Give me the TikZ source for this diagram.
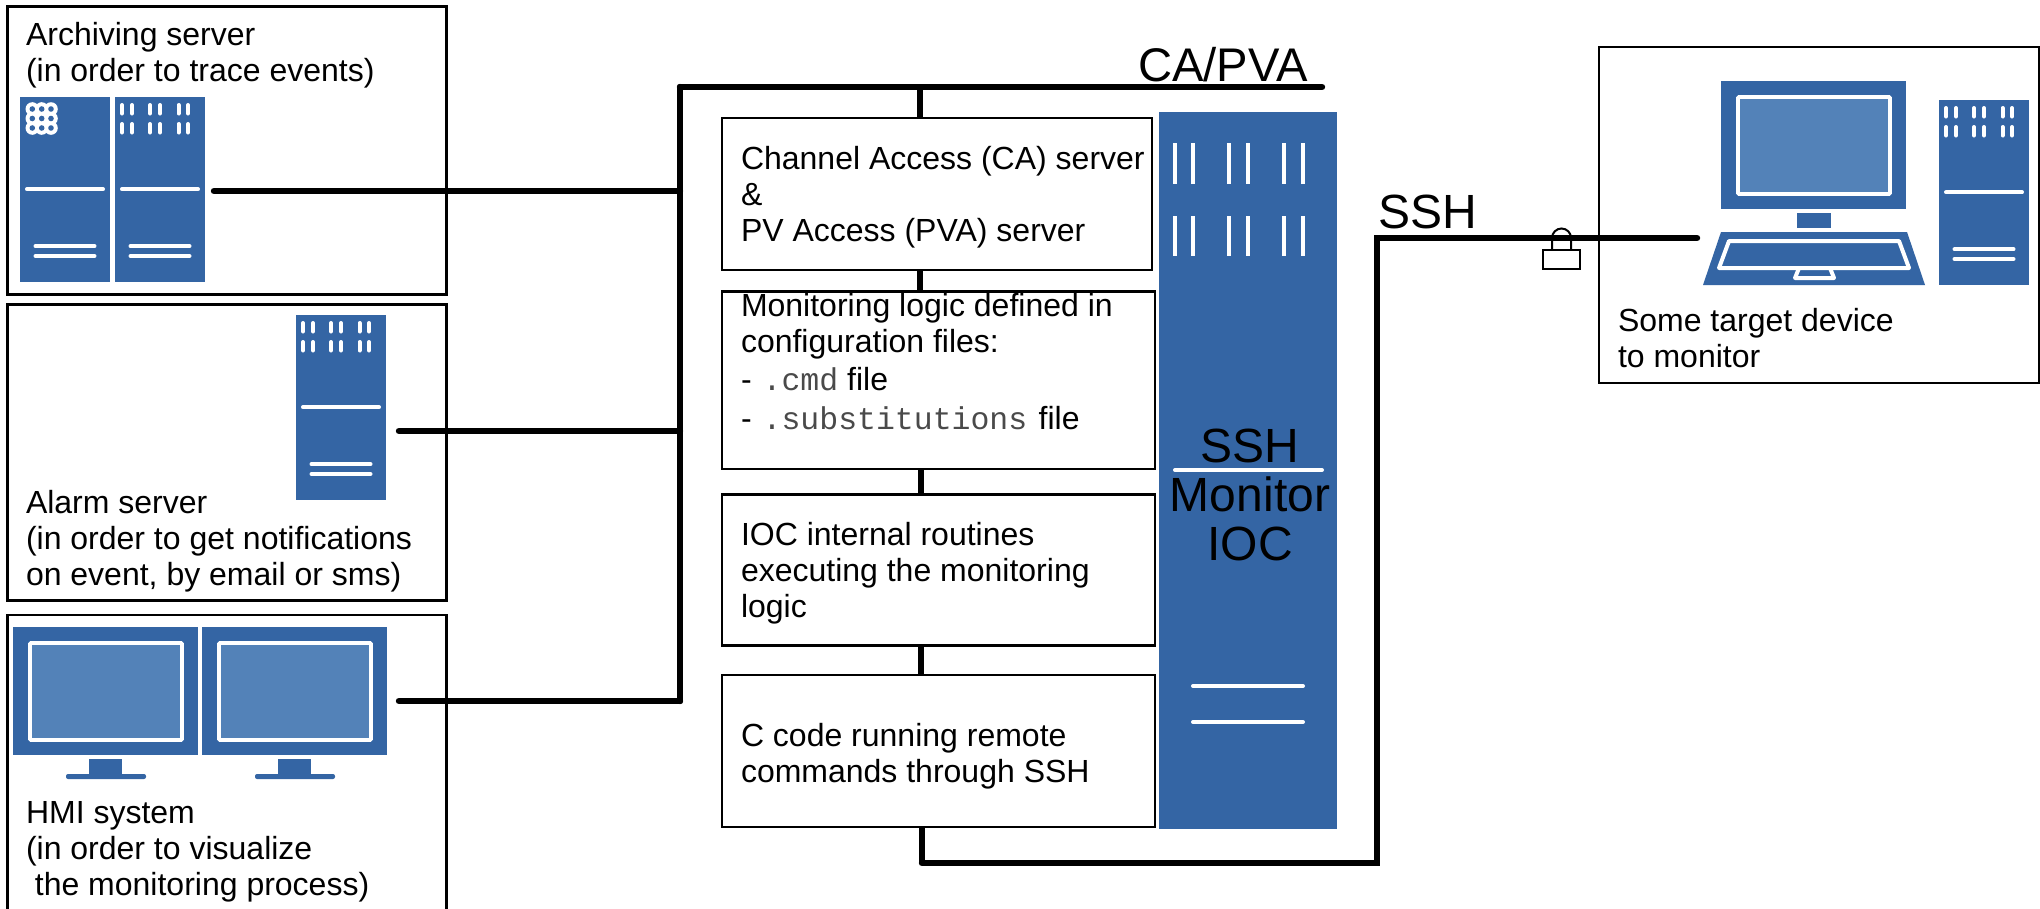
\documentclass[tikz,border=0pt]{standalone}
\usepackage{fontspec}
\setmainfont{Liberation Sans}
\setmonofont{Liberation Mono}
\definecolor{rack}{HTML}{3465A4}
\definecolor{screen}{HTML}{5382B8}
\definecolor{monotxt}{HTML}{4A4A4A}
\newcommand{\mfile}[1]{{\fontsize{31.5}{36}\selectfont\ttfamily\color{monotxt}#1}}
\tikzset{
  x=1pt,y=-1pt,
  wire/.style={line width=6.4pt,line cap=round,draw=black},
  stub/.style={line width=6.4pt,draw=black},
  frame/.style={draw=black,line width=2.6pt,fill=white,shape=rectangle,inner sep=0pt,outer sep=0pt},
  lab/.style={anchor=north west,inner sep=0pt,outer sep=0pt,align=left,yshift=25.2pt,font=\fontsize{32}{36}\selectfont},
  big/.style={inner sep=0pt,outer sep=0pt,font=\fontsize{48}{49}\selectfont,anchor=base west},
  wline/.style={draw=white,line width=4pt,line cap=round},
  racknode/.style={fill=rack,draw=none,shape=rectangle,inner sep=0pt,outer sep=0pt},
  rackbody/.pic={
    \fill[rack] (0,0) rectangle (90,185);
    \draw[wline] (7,92.3) -- (83,92.3);
    \draw[wline] (15.5,149.3) -- (74.5,149.3);
    \draw[wline] (15.5,159) -- (74.5,159);
  },
  rackslots/.pic={
    \foreach \sx in {7,17,35,45,63.5,73}{
      \draw[wline] (\sx,8) -- (\sx,16.5);
      \draw[wline] (\sx,27) -- (\sx,35.5);
    }
  },
  rackrings/.pic={
    \foreach \sx in {12.3,21.7,31}{\foreach \sy in {12,21.5,31}{
      \fill[white] (\sx,\sy) circle[radius=6.8pt];
    }}
    \foreach \sx in {12.3,21.7,31}{\foreach \sy in {12,21.5,31}{
      \fill[rack] (\sx,\sy) circle[radius=2.8pt];
    }}
  },
  monitorbody/.pic={
    \fill[rack] (0,0) rectangle (185,128);
    \draw[draw=white,fill=screen,line width=3.8pt,rounded corners=1pt] (17,16) rectangle (169,113);
  },
  monitorstand/.pic={
    \fill[rack] (76,132) rectangle (109,148);
    \fill[rack,rounded corners=2pt] (53,147) rectangle (133,152);
  },
}
\begin{document}
\begin{tikzpicture}
\useasboundingbox (0,0) rectangle (2040,908);
\fill[white] (0,0) rectangle (2040,908);

% outer frames
\node[frame,minimum width=439.5pt,minimum height=288pt] (archbox) at (227,150.5) {};
\node[frame,minimum width=439.5pt,minimum height=296pt] (alarmbox) at (227,452.5) {};
\node[frame,minimum width=439.5pt,minimum height=310pt] (hmibox) at (227,770) {};
\node[frame,minimum width=440pt,minimum height=336pt] (targetbox) at (1819,215) {};

% server glyphs
\pic at (20,97) {rackbody}; \pic at (20,97) {rackrings};
\pic at (115,97) {rackbody}; \pic at (115,97) {rackslots};
\pic at (296,315) {rackbody}; \pic at (296,315) {rackslots};
\pic at (1939,100) {rackbody}; \pic at (1939,100) {rackslots};

% monitors
\pic at (13,627) {monitorbody}; \pic at (13,627) {monitorstand};
\pic at (202,627) {monitorbody}; \pic at (202,627) {monitorstand};
\pic at (1721,81) {monitorbody};
\fill[rack] (1797,213) rectangle (1831,228);
\fill[rack] (1721,232) -- (1907,232) -- (1925,285) -- (1703,285) -- cycle;
\draw[draw=white,line width=4pt,line join=round] (1729,241) -- (1899,241) -- (1909,268) -- (1719,268) -- cycle;
\draw[draw=white,line width=4pt,line join=round] (1799,268) -- (1795,278) -- (1834,278) -- (1830,268);

% big IOC rack
\node[racknode,minimum width=178pt,minimum height=717pt] (ioc) at (1248,470.5) {};
\foreach \sx in {1174.5,1193,1229,1248,1284,1302.5}{
  \draw[draw=white,line width=4pt] (\sx,143) -- (\sx,184);
  \draw[draw=white,line width=4pt] (\sx,216) -- (\sx,256);
}
\draw[wline] (1175,470) -- (1322,470);
\draw[wline] (1193,686) -- (1303,686);
\draw[wline] (1193,722) -- (1303,722);

% lock
\draw[line width=2pt,fill=white] (1543,250) rectangle (1580,269);
\draw[line width=2pt] (1552,250) -- (1552,238) arc[start angle=180,end angle=0,radius=9.5pt] -- (1571,250);

% centre boxes
\node[frame,minimum width=430pt,minimum height=152pt] (caserver) at (937,194) {};
\node[frame,minimum width=433pt,minimum height=177.5pt] (logic) at (938.5,380.25) {};
\node[frame,minimum width=433pt,minimum height=151pt] (routines) at (938.5,570) {};
\node[frame,minimum width=433pt,minimum height=152pt] (ccode) at (938.5,751) {};

% connector coordinates
\coordinate (archend) at (214,191);
\coordinate (alarmend) at (399,431);
\coordinate (hmiend) at (399,701);
\coordinate (bustop) at (680,87);
\coordinate (busarch) at (680,191);
\coordinate (busalarm) at (680,431);
\coordinate (bushmi) at (680,701);
\coordinate (capright) at (1322,87);
\coordinate (stubtop) at (920,87);
\coordinate (sshcorner) at (1377,238);
\coordinate (sshend) at (1697,238);
\coordinate (sshbottom) at (1377,863);
\coordinate (stubbottom) at (922,863);

\draw[wire] (archend) -- (busarch);
\draw[wire] (alarmend) -- (busalarm);
\draw[wire] (hmiend) -- (bushmi);
\draw[wire] (bustop) -- (bushmi);
\draw[wire] (bustop) -- (capright);
\draw[stub] (stubtop) -- (stubtop |- caserver.north);
\draw[stub] (920,270) -- (920,291);
\draw[stub] (921,469) -- (921,494.5);
\draw[stub] (921,645.5) -- (921,675);
\draw[stub] (stubbottom |- ccode.south) -- (stubbottom);
\draw[wire] (stubbottom) -- (sshbottom) -- (sshcorner) -- (sshend);

% labels
\node[lab] (tarch) at (26,45) {\strut Archiving server\\(in order to trace events)};
\node[lab] (talarm) at (26,513) {\strut Alarm server\\(in order to get notifications\\on event, by email or sms)};
\node[lab] (thmi) at (26,823.5) {\strut HMI system\\(in order to visualize\\\ the monitoring process)};
\node[lab] (ttarget) at (1618,331) {\strut Some target device\\to monitor};
\node[lab] (tca) at (741,169) {\strut Channel Access (CA) server\\\&\\PV Access (PVA) server};
\node[lab] (tlog1) at (741,316) {\strut Monitoring logic defined in\\configuration files:};
\node[lab] (tlog2) at (741,390) {\strut -\hspace{11pt}\mfile{.cmd} file};
\node[lab] (tlog3) at (741,429) {\strut -\hspace{11pt}\mfile{.substitutions}\hspace{2.5pt} file};
\node[lab] (trout) at (741,545) {\strut IOC internal routines\\executing the monitoring\\logic};
\node[lab] (tcc) at (741,746) {\strut C code running remote\\commands through SSH};

\node[big,anchor=base] (tssh) at (1250,462) {SSH};
\node[big,anchor=base] (tmon) at (1250,511) {Monitor};
\node[big,anchor=base] (tioc) at (1250,560) {IOC};
\node[big,font=\fontsize{47.2}{49}\selectfont] (tcapva) at (1138,81) {CA/PVA};
\node[big] (tsshl) at (1378,228) {SSH};
\end{tikzpicture}
\end{document}
